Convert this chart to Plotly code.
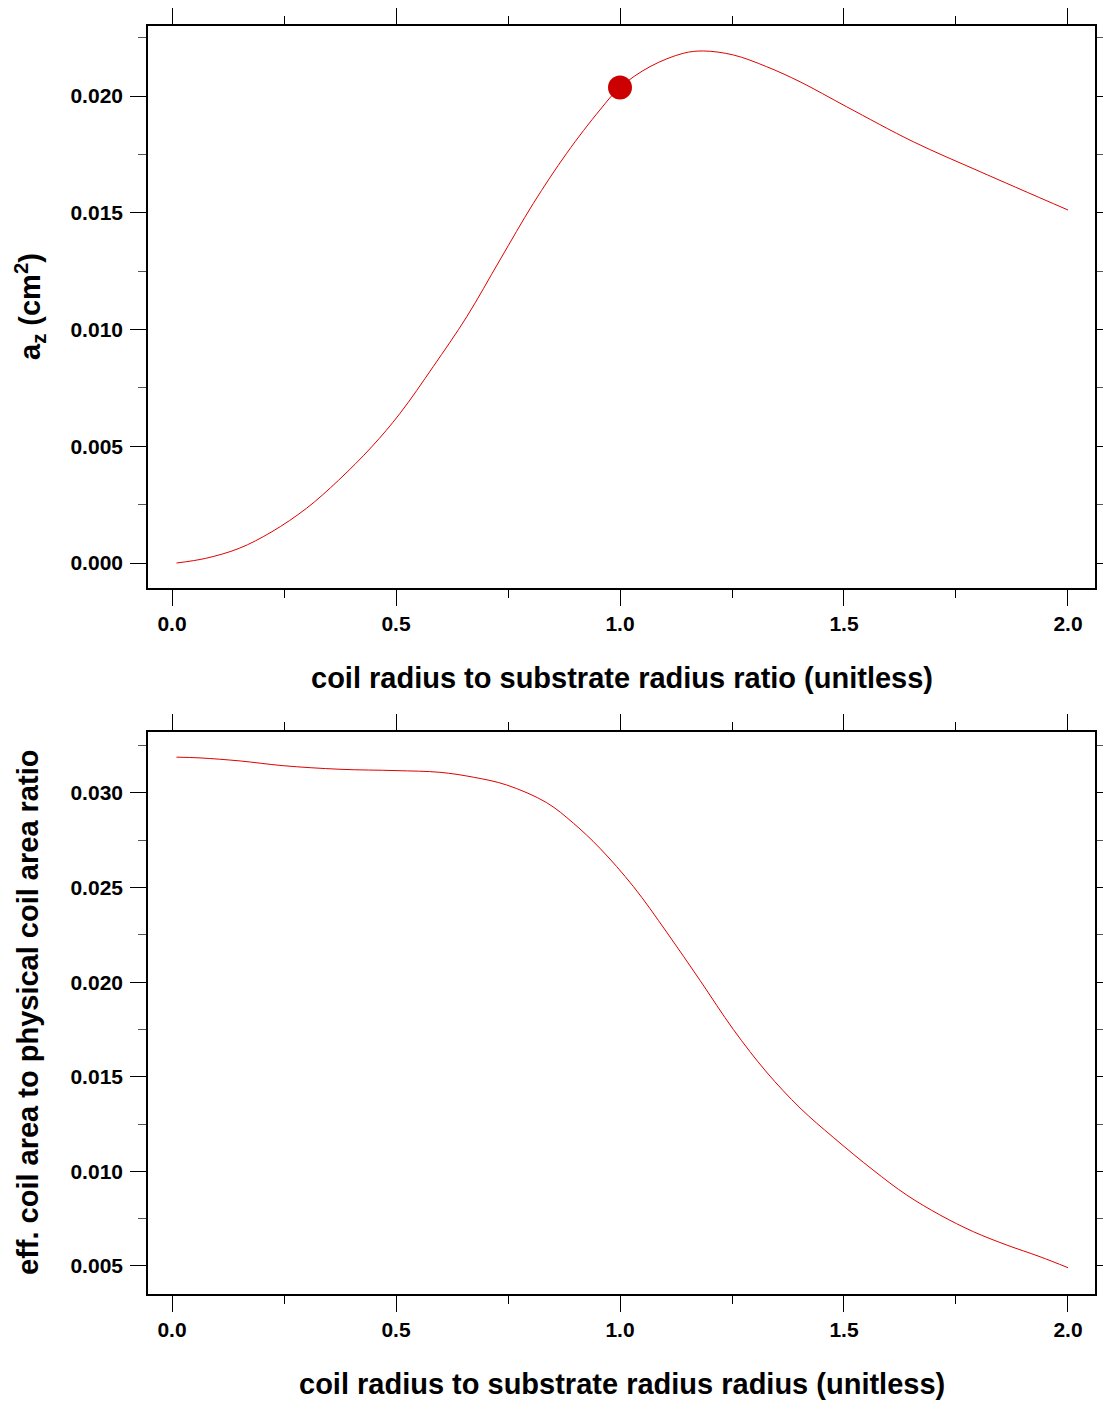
import plotly.graph_objects as go

# ---- data ----
x_top = [0.01, 0.075, 0.15, 0.223, 0.30, 0.372, 0.446, 0.509, 0.583, 0.658, 0.732, 0.8065,
         0.881, 0.955, 1.0, 1.067, 1.141, 1.186, 1.253, 1.327, 1.402, 1.506, 1.655, 1.804, 2.0]
y_top = [0.0, 0.0002, 0.00063, 0.00134, 0.00234, 0.00355, 0.00498, 0.00641, 0.00841, 0.01055,
         0.01298, 0.0154, 0.01755, 0.0194, 0.02037, 0.02126, 0.02183, 0.02193, 0.02176, 0.02126,
         0.02061, 0.01954, 0.01804, 0.01676, 0.01512]

x_bot = [0.01, 0.0625, 0.152, 0.248, 0.375, 0.50, 0.598, 0.673, 0.747, 0.836, 0.896, 0.955,
         1.03, 1.104, 1.179, 1.253, 1.327, 1.402, 1.476, 1.565, 1.64, 1.714, 1.789, 1.863,
         1.9375, 2.0]
y_bot = [0.03189, 0.03185, 0.03169, 0.03144, 0.03125, 0.03118, 0.03109, 0.03083, 0.03042,
         0.02949, 0.0284, 0.02708, 0.02505, 0.02265, 0.02008, 0.0175, 0.01525, 0.01335,
         0.0118, 0.01007, 0.00875, 0.0077, 0.00681, 0.00611, 0.00549, 0.00491]

highlight_x = [1.0]
highlight_y = [0.02037]

x_title_top = "coil radius to substrate radius ratio (unitless)"
x_title_bot = "coil radius to substrate radius radius (unitless)"
y_title_top = "a<sub>z</sub> (cm<sup>2</sup>)"
y_title_bot = "eff. coil area to physical coil area ratio"

FONT = "Liberation Sans, Arial, Helvetica, sans-serif"
LINE_RED = "#e00000"
DOT_RED = "#cc0000"

W, H = 1103, 1401
ML, MR, MT, MB = 148, 8, 26, 107
plot_h = H - MT - MB
top_dom = [(1294 - 588) / plot_h, 1.0]
bot_dom = [0.0, (1294 - 732) / plot_h]
top_rng = [-0.00107, 0.0230]
bot_rng = [0.00352, 0.03322]

fig = go.Figure()
fig.add_trace(go.Scatter(x=x_top, y=y_top, mode="lines",
                         line=dict(color=LINE_RED, width=1, shape="spline", smoothing=1.0),
                         xaxis="x", yaxis="y", showlegend=False))
fig.add_trace(go.Scatter(x=highlight_x, y=highlight_y, mode="markers",
                         marker=dict(color=DOT_RED, size=24, line=dict(width=0)),
                         xaxis="x", yaxis="y", showlegend=False))
fig.add_trace(go.Scatter(x=x_bot, y=y_bot, mode="lines",
                         line=dict(color=LINE_RED, width=1, shape="spline", smoothing=1.0),
                         xaxis="x2", yaxis="y2", showlegend=False))

tickfont = dict(family=FONT, size=21, color="black", weight="bold")

def xaxis(anchor):
    return dict(anchor=anchor, range=[-0.0536, 2.0603], tick0=0, dtick=0.5, tickformat=".1f",
                ticks="outside", ticklen=16, tickwidth=1.2, tickcolor="black",
                showline=True, linecolor="black", linewidth=1.6, mirror="ticks",
                showgrid=False, zeroline=False, tickfont=tickfont, ticklabelstandoff=0,
                minor=dict(ticks="outside", tick0=0, dtick=0.25, ticklen=8, tickwidth=1.2,
                           tickcolor="black", showgrid=False))

def yaxis(anchor, dom, rng):
    return dict(anchor=anchor, domain=dom, range=rng, tick0=0, dtick=0.005, tickformat=".3f",
                ticks="outside", ticklen=16, tickwidth=1.2, tickcolor="black",
                showline=True, linecolor="black", linewidth=1.6, mirror="ticks",
                showgrid=False, zeroline=False, tickfont=tickfont, ticklabelstandoff=3,
                minor=dict(ticks="outside", tick0=0, dtick=0.0025, ticklen=8, tickwidth=1.2,
                           tickcolor="#555555", showgrid=False))

fig.update_layout(
    width=W, height=H, margin=dict(l=ML, r=MR, t=MT, b=MB, autoexpand=False),
    plot_bgcolor="white", paper_bgcolor="white",
    xaxis=xaxis("y"), yaxis=yaxis("x", top_dom, top_rng),
    xaxis2=xaxis("y2"), yaxis2=yaxis("x2", bot_dom, bot_rng),
    font=dict(family=FONT, color="black"),
)

title_font = dict(family=FONT, size=29, color="black", weight="bold")
ann = [
    dict(text=x_title_top, x=0.5, y=top_dom[0], xref="paper", yref="paper",
         xanchor="center", yanchor="middle", yshift=-90, showarrow=False, font=title_font),
    dict(text=x_title_bot, x=0.5, y=bot_dom[0], xref="paper", yref="paper",
         xanchor="center", yanchor="middle", yshift=-90, showarrow=False, font=title_font),
    dict(text=y_title_top, x=0, y=(top_dom[0] + top_dom[1]) / 2, xref="paper", yref="paper",
         xanchor="center", yanchor="middle", xshift=-118, textangle=-90, showarrow=False, font=title_font),
    dict(text=y_title_bot, x=0, y=(bot_dom[0] + bot_dom[1]) / 2, xref="paper", yref="paper",
         xanchor="center", yanchor="middle", xshift=-120, textangle=-90, showarrow=False, font=title_font),
]
fig.update_layout(annotations=ann)

fig.write_html("out.html", config={"responsive": False, "displayModeBar": False},
               post_script="document.body.style.margin='0';document.body.style.overflow='hidden';")
